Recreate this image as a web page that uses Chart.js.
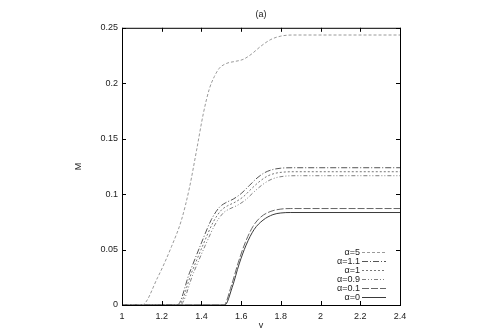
<!DOCTYPE html>
<html>
<head>
<meta charset="utf-8">
<script src="https://cdn.jsdelivr.net/npm/chart.js@4/dist/chart.umd.min.js"></script>
<style>
  html, body { margin: 0; padding: 0; background: #fff; }
  #wrap { width: 480px; height: 336px; }
</style>
</head>
<body>
<div id="wrap"><canvas id="canvas" width="480" height="336"></canvas></div>
<script>
// series labels
var seriesLabels = ['\u03b1=5', '\u03b1=1.1', '\u03b1=1', '\u03b1=0.9', '\u03b1=0.1', '\u03b1=0'];

// values (v, M)
var v_a5  = [1.0, 1.1, 1.18, 1.25, 1.30, 1.34, 1.375, 1.41, 1.44, 1.465, 1.49, 1.525, 1.57, 1.61, 1.65, 1.70, 1.75, 1.80, 1.86, 2.4];
var m_a5  = [0, 0, 0.025, 0.053, 0.077, 0.106, 0.139, 0.173, 0.195, 0.206, 0.2135, 0.2178, 0.2197, 0.2215, 0.226, 0.2335, 0.2395, 0.2425, 0.2435, 0.2435];

var v_a11 = [1.0, 1.278, 1.34, 1.40, 1.45, 1.49, 1.52, 1.56, 1.60, 1.64, 1.68, 1.72, 1.76, 1.80, 1.86, 2.4];
var m_a11 = [0, 0, 0.029, 0.056, 0.077, 0.088, 0.092, 0.0955, 0.1005, 0.1075, 0.1145, 0.1195, 0.1222, 0.1234, 0.1238, 0.1238];

var v_a10 = [1.0, 1.285, 1.35, 1.41, 1.46, 1.50, 1.53, 1.57, 1.61, 1.65, 1.69, 1.73, 1.77, 1.81, 1.87, 2.4];
var m_a10 = [0, 0, 0.029, 0.055, 0.075, 0.0855, 0.0893, 0.0928, 0.0975, 0.1045, 0.111, 0.1160, 0.1187, 0.1198, 0.1202, 0.1202];

var v_a09 = [1.0, 1.292, 1.36, 1.42, 1.47, 1.51, 1.54, 1.58, 1.62, 1.66, 1.70, 1.74, 1.78, 1.82, 1.88, 2.4];
var m_a09 = [0, 0, 0.029, 0.054, 0.073, 0.083, 0.0865, 0.0898, 0.0945, 0.1012, 0.1075, 0.1123, 0.1150, 0.1162, 0.1166, 0.1166];

var v_a01 = [1.0, 1.513, 1.55, 1.585, 1.62, 1.66, 1.70, 1.75, 1.80, 1.85, 2.4];
var m_a01 = [0, 0, 0.017, 0.038, 0.056, 0.071, 0.0795, 0.0845, 0.0865, 0.087, 0.087];

var v_a00 = [1.0, 1.518, 1.555, 1.59, 1.625, 1.665, 1.71, 1.76, 1.80, 1.85, 2.4];
var m_a00 = [0, 0, 0.016, 0.037, 0.054, 0.068, 0.0765, 0.0815, 0.083, 0.0834, 0.0834];

// axis ticks
var xTicks = [1, 1.2, 1.4, 1.6, 1.8, 2, 2.2, 2.4];
var yTicks = [0, 0.05, 0.1, 0.15, 0.2, 0.25];

var FONT = '"Liberation Sans", Arial, sans-serif';

function pts(vs, ms) {
    return vs.map(function (v, i) { return {x: v, y: ms[i]}; });
}

var styles = [
    {color: '#9a9a9a', dash: [3, 2]},
    {color: '#555555', dash: [6, 2, 1, 2]},
    {color: '#777777', dash: [2, 2]},
    {color: '#808080', dash: [4, 2, 1, 2, 1, 2]},
    {color: '#666666', dash: [7, 2]},
    {color: '#3a3a3a', dash: []}
];
var series = [pts(v_a5, m_a5), pts(v_a11, m_a11), pts(v_a10, m_a10),
              pts(v_a09, m_a09), pts(v_a01, m_a01), pts(v_a00, m_a00)];

var datasets = series.map(function (d, i) {
    return {
        label: seriesLabels[i],
        data: d,
        borderColor: styles[i].color,
        borderDash: styles[i].dash,
        borderWidth: 1,
        pointRadius: 0,
        fill: false,
        cubicInterpolationMode: 'monotone'
    };
});

// frame, mirrored inward ticks, and gnuplot-style key
var framePlugin = {
    id: 'frame',
    afterDraw: function (chart) {
        var ctx = chart.ctx, a = chart.chartArea;
        var xs = chart.scales.x, ys = chart.scales.y;
        ctx.save();
        ctx.strokeStyle = '#000';
        ctx.lineWidth = 1;
        ctx.setLineDash([]);
        ctx.strokeRect(a.left + 0.5, a.top + 0.5, a.right - a.left, a.bottom - a.top);
        ctx.beginPath();
        xTicks.forEach(function (t) {
            var px = Math.round(xs.getPixelForValue(t)) + 0.5;
            ctx.moveTo(px, a.bottom); ctx.lineTo(px, a.bottom - 4);
            ctx.moveTo(px, a.top); ctx.lineTo(px, a.top + 4);
        });
        yTicks.forEach(function (t) {
            var py = Math.round(ys.getPixelForValue(t)) + 0.5;
            ctx.moveTo(a.left, py); ctx.lineTo(a.left + 4, py);
            ctx.moveTo(a.right, py); ctx.lineTo(a.right - 4, py);
        });
        ctx.stroke();

        // key
        ctx.font = '9px ' + FONT;
        ctx.textAlign = 'right';
        ctx.textBaseline = 'middle';
        chart.data.datasets.forEach(function (ds, i) {
            var y = Math.round(252 + i * 9) + 0.5;
            ctx.fillStyle = '#222';
            ctx.fillText(ds.label, 360, y);
            ctx.strokeStyle = ds.borderColor;
            ctx.setLineDash(ds.borderDash);
            ctx.beginPath();
            ctx.moveTo(362, y); ctx.lineTo(386, y);
            ctx.stroke();
        });
        ctx.restore();
    }
};

var ctx = document.getElementById('canvas').getContext('2d');
window.myChart = new Chart(ctx, {
    type: 'line',
    data: {datasets: datasets},
    plugins: [framePlugin],
    options: {
        responsive: false,
        animation: false,
        layout: {padding: {left: 73, right: 80, top: 0, bottom: 0}},
        plugins: {
            legend: {display: false},
            tooltip: {enabled: false},
            title: {
                display: true,
                text: '(a)',
                fullSize: false,
                color: '#222',
                font: {family: FONT, size: 9, weight: 'normal'},
                padding: {top: 9, bottom: 8}
            }
        },
        scales: {
            x: {
                type: 'linear',
                min: 1, max: 2.4,
                afterFit: function (s) { s.height = 31; },
                afterBuildTicks: function (s) { s.ticks = xTicks.map(function (v) { return {value: v}; }); },
                grid: {display: false, drawTicks: false},
                border: {display: false},
                ticks: {
                    padding: 6, color: '#222', maxRotation: 0,
                    font: {family: FONT, size: 9},
                    callback: function (v) { return String(Math.round(v * 10) / 10); }
                },
                title: {display: true, text: 'v', color: '#222',
                        font: {family: FONT, size: 9}, padding: {top: 0, bottom: 5}}
            },
            y: {
                type: 'linear',
                min: 0, max: 0.25,
                afterFit: function (s) { s.width = 49; },
                afterBuildTicks: function (s) { s.ticks = yTicks.map(function (v) { return {value: v}; }); },
                grid: {display: false, drawTicks: false},
                border: {display: false},
                ticks: {
                    padding: 4, color: '#222',
                    font: {family: FONT, size: 9},
                    callback: function (v) { return String(Math.round(v * 100) / 100); }
                },
                title: {display: true, text: 'M', color: '#222',
                        font: {family: FONT, size: 9}, padding: {top: 0, bottom: 0}}
            }
        }
    }
});
</script>
</body>
</html>
